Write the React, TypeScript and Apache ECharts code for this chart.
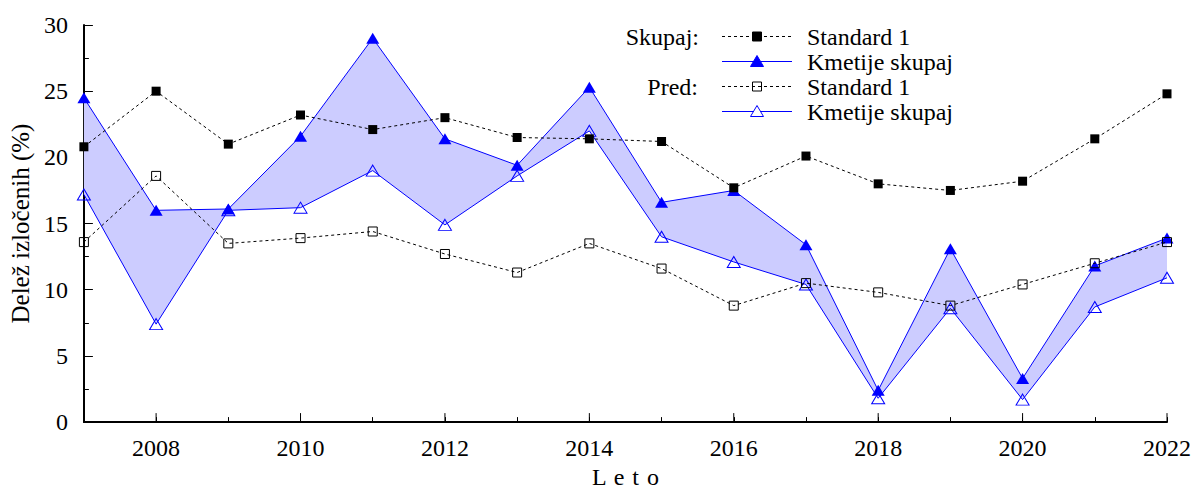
import React, { useEffect, useRef } from "react";
import * as echarts from "echarts";

const years = ["2007","2008","2009","2010","2011","2012","2013","2014","2015","2016","2017","2018","2019","2020","2021","2022"];
const majorYears = ["2008","2010","2012","2014","2016","2018","2020","2022"];
const std1Skupaj = [20.8, 25.0, 21.0, 23.2, 22.1, 23.0, 21.5, 21.4, 21.2, 17.7, 20.1, 18.0, 17.5, 18.2, 21.4, 24.8];
const kmetSkupaj = [24.5, 16.0, 16.1, 21.6, 29.0, 21.4, 19.4, 25.3, 16.6, 17.5, 13.4, 2.4, 13.1, 3.3, 11.8, 13.9];
const std1Pred = [13.6, 18.6, 13.5, 13.9, 14.4, 12.7, 11.3, 13.5, 11.6, 8.8, 10.5, 9.8, 8.8, 10.4, 12.0, 13.6];
const kmetPred = [17.2, 7.4, 16.0, 16.2, 19.0, 14.9, 18.6, 22.0, 14.0, 12.1, 10.4, 1.8, 8.6, 1.7, 8.7, 10.9];
const yTicks = { min: 0, max: 30, interval: 5 };
const legendGroups = ["Skupaj:", "Pred:"];
const legendNames = ["Standard 1", "Kmetije skupaj", "Standard 1", "Kmetije skupaj"];

const FONT = "'Liberation Serif', 'Times New Roman', serif";
const BLUE = "#0000ff";

function legendGraphics() {
  const rows = [36.5, 61.5, 86.5, 111.5];
  const x1 = 722, x2 = 792, cx = 757, tx = 807;
  const els: any[] = [];
  rows.forEach((y, i) => {
    const isStd = i % 2 === 0;
    const filled = i < 2;
    els.push({
      type: "line",
      shape: { x1, y1: y, x2, y2: y },
      style: isStd ? { stroke: "#000", lineWidth: 1, lineDash: [3, 3] } : { stroke: BLUE, lineWidth: 1 },
      z: 10,
    });
    if (isStd) {
      els.push({
        type: "rect",
        shape: { x: cx - 4.5, y: y - 4.5, width: 9, height: 9 },
        style: filled ? { fill: "#000", stroke: "#000", lineWidth: 1 } : { fill: "none", stroke: "#000", lineWidth: 1 },
        z: 11,
      });
    } else {
      els.push({
        type: "polygon",
        shape: { points: [[cx, y - 6], [cx - 6.5, y + 5], [cx + 6.5, y + 5]] },
        style: filled ? { fill: BLUE, stroke: BLUE, lineWidth: 1 } : { fill: "#fff", stroke: BLUE, lineWidth: 1 },
        z: 11,
      });
    }
    els.push({
      type: "text",
      x: tx,
      y,
      style: {
        text: legendNames[i],
        font: `24px ${FONT}`,
        fill: "#000",
        align: "left",
        verticalAlign: "middle",
        textAlign: "left",
        textVerticalAlign: "middle",
      },
      z: 11,
    });
  });
  [[legendGroups[0], rows[0], 699], [legendGroups[1], rows[2], 698]].forEach(([t, y, x]: any) => {
    els.push({
      type: "text",
      x,
      y,
      style: {
        text: t,
        font: `24px ${FONT}`,
        fill: "#000",
        align: "right",
        verticalAlign: "middle",
        textAlign: "right",
        textVerticalAlign: "middle",
      },
      z: 11,
    });
  });
  return els;
}

export default function App() {
  const ref = useRef<HTMLDivElement>(null);
  useEffect(() => {
    if (!ref.current) return;
    const chart = echarts.init(ref.current, null, { renderer: "svg" });
    const diff = kmetSkupaj.map((v, i) => +(v - kmetPred[i]).toFixed(3));
    chart.setOption({
      animation: false,
      textStyle: { fontFamily: FONT, color: "#000" },
      grid: { left: 82, right: 30, top: 25, height: 408, containLabel: false },
      graphic: legendGraphics(),
      xAxis: {
        type: "category",
        data: years,
        boundaryGap: false,
        name: "L \u200Ae \u200At \u200Ao",
        nameLocation: "middle",
        nameGap: 37,
        nameTextStyle: { fontSize: 24, fontFamily: FONT, color: "#000" },
        axisLine: { lineStyle: { color: "#000", width: 2 } },
        axisTick: { show: true, inside: true, length: 5, interval: 0, lineStyle: { color: "#000", width: 1 } },
        axisLabel: {
          fontSize: 24,
          fontFamily: FONT,
          color: "#000",
          margin: 14,
          interval: (i: number, v: string) => Number(v) % 2 === 0,
        },
        splitLine: { show: false },
      },
      yAxis: {
        type: "value",
        min: yTicks.min,
        max: yTicks.max,
        interval: yTicks.interval,
        name: "Delež izločenih (%)",
        nameLocation: "middle",
        nameGap: 45,
        nameTextStyle: { fontSize: 25, fontFamily: FONT, color: "#000" },
        axisLine: { show: true, lineStyle: { color: "#000", width: 2 } },
        axisTick: { show: true, inside: true, length: 9, lineStyle: { color: "#000", width: 1 } },
        minorTick: { show: true, splitNumber: 2, length: 5, lineStyle: { color: "#000", width: 1 } },
        axisLabel: { fontSize: 24, fontFamily: FONT, color: "#000", margin: 16 },
        splitLine: { show: false },
      },
      series: [
        {
          name: "__base",
          type: "line",
          stack: "band",
          data: kmetPred,
          symbol: "none",
          lineStyle: { opacity: 0, width: 0 },
          silent: true,
          z: 1,
        },
        {
          name: "__band",
          type: "line",
          stack: "band",
          data: diff,
          symbol: "none",
          lineStyle: { opacity: 0, width: 0 },
          areaStyle: { color: "#ccccff", opacity: 1 },
          silent: true,
          z: 1,
        },
        {
          name: "Standard 1 (Skupaj)",
          type: "line",
          data: std1Skupaj,
          symbol: "rect",
          symbolSize: 9,
          lineStyle: { color: "#000", width: 1, type: [3, 3] },
          itemStyle: { color: "#000" },
          z: 5,
        },
        {
          name: "Kmetije skupaj (Skupaj)",
          type: "line",
          data: kmetSkupaj,
          symbol: "triangle",
          symbolSize: [13, 11],
          lineStyle: { color: BLUE, width: 1 },
          itemStyle: { color: BLUE },
          z: 4,
        },
        {
          name: "Standard 1 (Pred)",
          type: "line",
          data: std1Pred,
          symbol: "rect",
          symbolSize: 9,
          lineStyle: { color: "#000", width: 1, type: [3, 3] },
          itemStyle: { color: "rgba(255,255,255,0)", borderColor: "#000", borderWidth: 1 },
          z: 5,
        },
        {
          name: "Kmetije skupaj (Pred)",
          type: "line",
          data: kmetPred,
          symbol: "triangle",
          symbolSize: [13, 11],
          lineStyle: { color: BLUE, width: 1 },
          itemStyle: { color: "rgba(255,255,255,0)", borderColor: BLUE, borderWidth: 1 },
          z: 4,
        },
        {
          name: "__majorTicks",
          type: "custom",
          data: majorYears.map((y) => [y]),
          encode: { x: 0 },
          silent: true,
          z: 6,
          renderItem: (params: any, api: any) => {
            const p = api.coord([api.value(0), 0]);
            return {
              type: "line",
              shape: { x1: p[0], y1: p[1], x2: p[0], y2: p[1] - 9 },
              style: { stroke: "#000", lineWidth: 1 },
            };
          },
        },
      ],
    });
    return () => chart.dispose();
  }, []);
  return <div ref={ref} style={{ position: "fixed", left: 0, top: 0, width: 1197, height: 494, background: "#fff" }} />;
}
